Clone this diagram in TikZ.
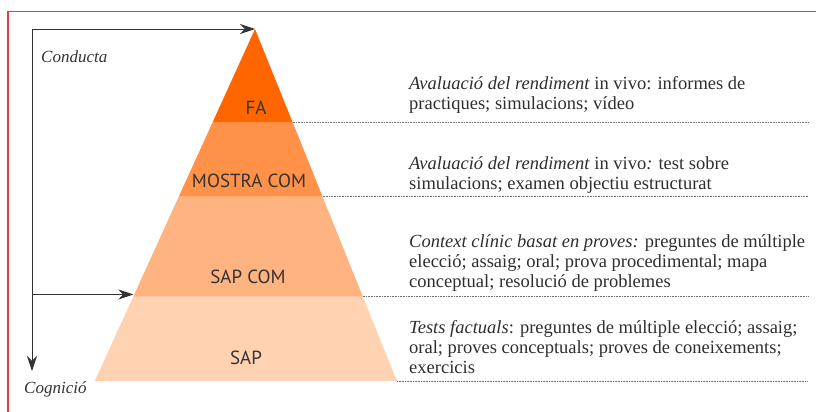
\documentclass[tikz,border=0pt]{standalone}
\usepackage{fontspec}
\setmainfont{Liberation Serif}
\newfontfamily\bandfont{PT Sans}
\usetikzlibrary{arrows.meta,calc}
\definecolor{framered}{RGB}{218,60,72}
\definecolor{faorange}{RGB}{255,102,0}
\definecolor{mostraorange}{RGB}{255,146,72}
\definecolor{sapcomorange}{RGB}{255,179,128}
\definecolor{saporange}{RGB}{255,211,178}
\tikzset{
    bandlabel/.style={font=\bandfont\fontsize{19}{20}\selectfont, text=black!80, inner sep=0pt},
    desc/.style={anchor=west, align=left, inner sep=0pt, font=\fontsize{18.5}{20}\selectfont, text=black!82},
    sidelabel/.style={inner sep=0pt, font=\itshape\fontsize{17}{18}\selectfont, text=black!80},
    guide/.style={densely dotted, black!55, line width=0.6pt},
    axisarrow/.style={black!80, line width=0.9pt, -{Stealth[length=15pt,width=10pt]}}
}

\begin{document}
\begin{tikzpicture}[x=1pt,y=-1pt]
    \useasboundingbox (0,0) rectangle (816,412);
    \draw[color=framered,line width=1.4pt] (8,412) -- (8,11.5) -- (816,11.5);

    \coordinate (apex) at (255,29);
    \coordinate (l1) at (212.5,122.5);  \coordinate (r1) at (292.7,122.5);
    \coordinate (l2) at (178.8,196.5);  \coordinate (r2) at (322.5,196.5);
    \coordinate (l3) at (133.3,296.5);  \coordinate (r3) at (362.8,296.5);
    \coordinate (l4) at (94.8,381);     \coordinate (r4) at (396.9,381);

    \fill[saporange] (l3) -- (r3) -- (r4) -- (l4) -- cycle;
    \fill[sapcomorange] (l2) -- (r2) -- (r3) -- (l3) -- cycle;
    \fill[mostraorange] (l1) -- (r1) -- (r2) -- (l2) -- cycle;
    \fill[faorange] (apex) -- (r1) -- (l1) -- cycle;

    \node[bandlabel] (fa) at (256,108) {FA};
    \node[bandlabel] (mostra) at (249,181) {MOSTRA COM};
    \node[bandlabel] (sapcom) at (248,277) {SAP COM};
    \node[bandlabel] (sap) at (246,358) {SAP};

    \coordinate (e1) at (808,122.5);
    \coordinate (e2) at (808,196.5);
    \coordinate (e3) at (808,296.5);
    \coordinate (e4) at (808,381);
    \draw[guide] (r1) -- (e1);
    \draw[guide] (r2) -- (e2);
    \draw[guide] (r3) -- (e3);
    \draw[guide] (r4) -- (e4);

    \node[desc] (d1) at (409,95) {\textit{Avaluació del rendiment} in vivo: informes de\\practiques; simulacions; vídeo};
    \node[desc] (d2) at (409,175.5) {\textit{Avaluació del rendiment} in vivo\textit{:} test sobre\\simulacions; examen objectiu estructurat};
    \node[desc] (d3) at (409,263) {\textit{Context clínic basat en proves:} preguntes de múltiple\\elecció; assaig; oral; prova procedimental; mapa\\conceptual; resolució de problemes};
    \node[desc] (d4) at (409,347.5) {\textit{Tests factuals}: preguntes de múltiple elecció; assaig;\\oral; proves conceptuals; proves de coneixements;\\exercicis};

    \coordinate (corner) at (32,29);
    \coordinate (branch) at (32,294.5);
    \coordinate (bottom) at (32,371);
    \draw[axisarrow] (bottom |- apex) -- (apex);
    \draw[axisarrow] (corner) -- (bottom);
    \draw[axisarrow] (branch) -- (branch -| l3);

    \node[sidelabel,anchor=west] (conducta) at (41,57) {Conducta};
    \node[sidelabel,anchor=west] (cognicio) at (24,389) {Cognició};
\end{tikzpicture}
\end{document}
